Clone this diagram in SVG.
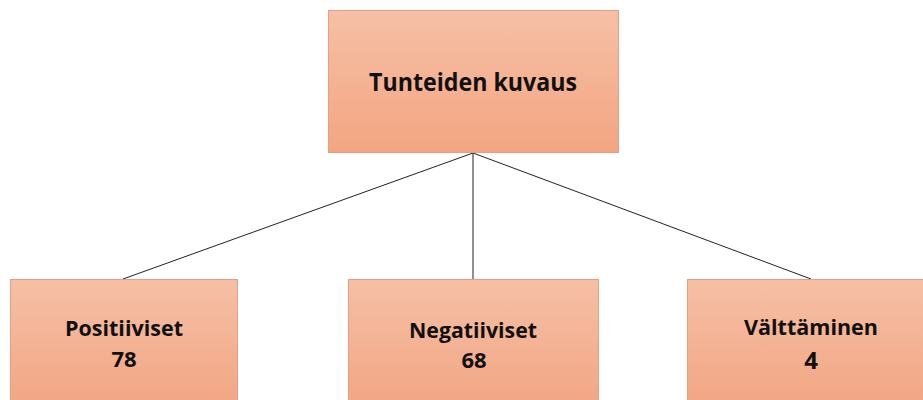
<svg xmlns="http://www.w3.org/2000/svg" width="923" height="400" viewBox="0 0 923 400">
<defs>
<linearGradient id="g1" x1="0" y1="0" x2="0" y2="1">
<stop offset="0" stop-color="#f6c0a6"/>
<stop offset="1" stop-color="#f3a582"/>
</linearGradient>
<linearGradient id="g2" x1="0" y1="0" x2="0" y2="1">
<stop offset="0" stop-color="#f6c0a6"/>
<stop offset="1" stop-color="#f2a582"/>
</linearGradient>
</defs>
<style>
.box{stroke:#dfa286;stroke-width:1}
.t{font-family:"Open Sans","Liberation Sans",sans-serif;font-weight:bold;fill:#111;text-anchor:middle}
.c{stroke:#222;stroke-width:1;fill:none}
</style>
<rect width="923" height="400" fill="#fff"/>
<g id="connectors">
<line class="c" x1="473" y1="153" x2="123" y2="279"/>
<line class="c" x1="473" y1="153" x2="473" y2="279"/>
<line class="c" x1="473" y1="153" x2="811" y2="279"/>
</g>
<g id="root">
<rect class="box" x="328.5" y="10.5" width="290" height="142" fill="url(#g1)"/>
<text class="t" x="473" y="91" font-size="25" textLength="208" lengthAdjust="spacingAndGlyphs">Tunteiden kuvaus</text>
</g>
<g id="positiiviset">
<rect class="box" x="10.5" y="279.5" width="227" height="130" fill="url(#g2)"/>
<text class="t" x="124" y="336" font-size="21" textLength="118" lengthAdjust="spacingAndGlyphs">Positiiviset</text>
<text class="t" x="124" y="367" font-size="22">78</text>
</g>
<g id="negatiiviset">
<rect class="box" x="348.5" y="279.5" width="250" height="130" fill="url(#g2)"/>
<text class="t" x="473" y="338" font-size="21" textLength="128" lengthAdjust="spacingAndGlyphs">Negatiiviset</text>
<text class="t" x="474" y="368" font-size="22">68</text>
</g>
<g id="valttaminen">
<rect class="box" x="687.5" y="279.5" width="250" height="130" fill="url(#g2)"/>
<text class="t" x="811" y="335" font-size="21" textLength="134" lengthAdjust="spacingAndGlyphs">Välttäminen</text>
<text class="t" x="811" y="369" font-size="24">4</text>
</g>
</svg>
